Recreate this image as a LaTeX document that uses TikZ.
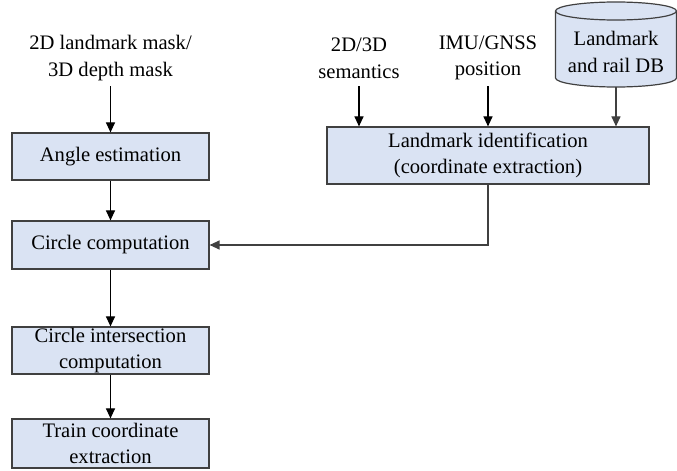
\documentclass[tikz,border=0pt]{standalone}
\usepackage{fontspec}
\setmainfont{Liberation Serif}
\usetikzlibrary{arrows.meta,positioning}

\definecolor{boxfill}{HTML}{DAE3F3}
\definecolor{boxline}{HTML}{404040}

\tikzset{
	stepbox/.style={draw=boxline, fill=boxfill, line width=0.6pt, align=center, inner sep=0pt},
	intext/.style={align=center, inner sep=0pt, minimum height=28pt},
	arr/.style={-{Triangle[length=5pt,width=4.5pt]}, line width=0.6pt}
}

\begin{document}
\begin{tikzpicture}[x=0.5pt,y=-0.5pt,font=\fontsize{10.3}{13.3}\selectfont]
	\useasboundingbox (0,0) rectangle (677,471);
	% left column
	\node[intext] (masks) at (110.5,58) {2D landmark mask/\\3D depth mask};
	\node[stepbox, minimum width=98.5pt, minimum height=23.5pt] (angle) at (110.5,156.5) {Angle estimation};
	\node[stepbox, minimum width=98.5pt, minimum height=24pt] (circ) at (110.5,245) {Circle computation};
	\node[stepbox, minimum width=98.5pt, minimum height=23.5pt] (inter) at (110.5,350.5) {Circle intersection\\computation};
	\node[stepbox, minimum width=98.5pt, minimum height=24.5pt] (train) at (110.5,443.5) {Train coordinate\\extraction};
	% right part
	\node[intext] (sem) at (359,58) {2D/3D\\semantics};
	\node[intext] (imu) at (488,58) {IMU/GNSS\\position};
	% database drum
	\path[stepbox] (555.5,11) -- (555.5,78) arc[start angle=180, end angle=0, x radius=60.5, y radius=9]
		-- (676.5,11) arc[start angle=0, end angle=-180, x radius=60.5, y radius=9] -- cycle;
	\draw[draw=boxline, line width=0.6pt] (555.5,11) arc[start angle=180, end angle=0, x radius=60.5, y radius=9];
	\node[align=center, inner sep=0pt, minimum width=60.5pt, minimum height=42.5pt] (db) at (616,44.5)
		{\raisebox{-7pt}[0pt][0pt]{\begin{tabular}{@{}c@{}}Landmark\\and rail DB\end{tabular}}};
	\node[stepbox, minimum width=161pt, minimum height=28.5pt] (ident) at (488,155.5) {Landmark identification\\(coordinate extraction)};

	\draw[arr] (masks) -- (angle);
	\draw[arr] (angle) -- (circ);
	\draw[arr] (circ) -- (inter);
	\draw[arr] (inter) -- (train);
	\draw[arr] (sem) -- (sem |- ident.north);
	\draw[arr] (imu) -- (ident);
	\draw[arr, draw=boxline] (db.south) -- (db.south |- ident.north);
	\draw[arr, draw=boxline] (ident.south) |- (circ.east);
\end{tikzpicture}
\end{document}
